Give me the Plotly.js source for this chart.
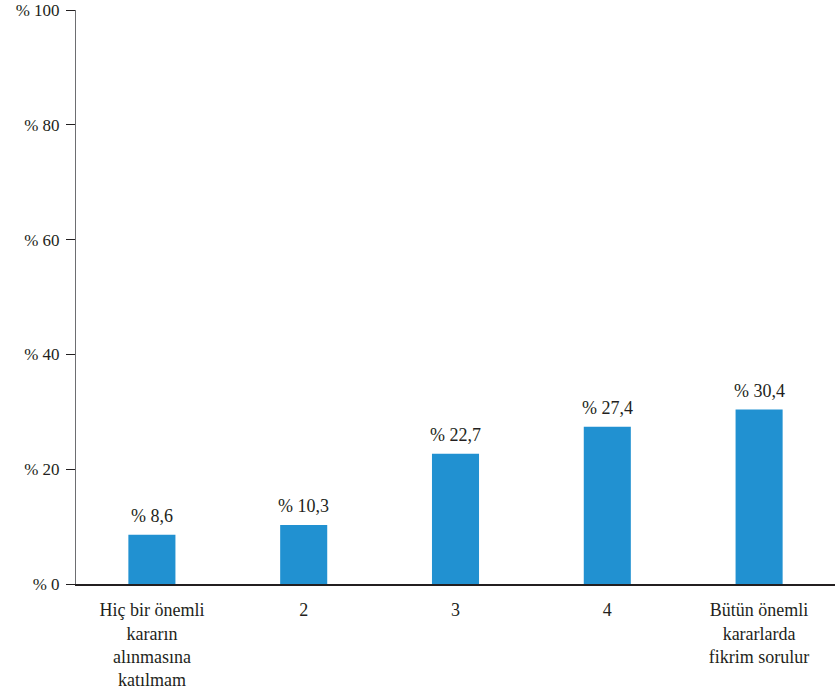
<!DOCTYPE html>
<html>
<head>
<meta charset="utf-8">
<script src="https://cdn.plot.ly/plotly-3.0.1.min.js"></script>
<style>html,body{margin:0;padding:0;background:#fff;}#chart{width:835px;height:691px;}</style>
</head>
<body>
<div id="chart"></div>
<script>
const categories = ["Hiç bir önemli<br>kararın<br>alınmasına<br>katılmam", "2", "3", "4", "Bütün önemli<br>kararlarda<br>fikrim sorulur"];
const values = [8.6, 10.3, 22.7, 27.4, 30.4];
const yTickVals = [0, 20, 40, 60, 80, 100];
const yTickText = ["% 0", "% 20", "% 40", "% 60", "% 80", "% 100"];

const fontFam = "'Liberation Serif', 'Times New Roman', serif";
const textColor = "#231f20";

const trace = {
  type: "bar",
  x: categories,
  y: values,
  marker: {color: "#2191d1"},
  hoverinfo: "none"
};

const annotations = categories.map((c, i) => ({
  x: i,
  y: values[i],
  xref: "x",
  yref: "y",
  text: "% " + values[i].toFixed(1).replace(".", ","),
  showarrow: false,
  yanchor: "bottom",
  yshift: 7,
  font: {family: fontFam, size: 18, color: textColor}
}));

const layout = {
  width: 835,
  height: 691,
  margin: {l: 76, r: 0, t: 10, b: 107},
  paper_bgcolor: "#fff",
  plot_bgcolor: "#fff",
  showlegend: false,
  bargap: 0.69,
  font: {family: fontFam, size: 18, color: textColor},
  annotations: annotations,
  xaxis: {
    type: "category",
    showline: true,
    linecolor: "#231f20",
    linewidth: 1.5,
    ticks: "",
    ticklabelstandoff: 9,
    showgrid: false,
    zeroline: false,
    tickfont: {family: fontFam, size: 18, color: textColor},
    automargin: false
  },
  yaxis: {
    range: [0, 100],
    tickmode: "array",
    tickvals: yTickVals,
    ticktext: yTickText,
    ticklabeloverflow: "allow",
    showline: true,
    linecolor: "#6d6e71",
    linewidth: 1,
    ticks: "outside",
    ticklen: 9,
    tickcolor: "#231f20",
    tickwidth: 1,
    ticklabelstandoff: 3,
    showgrid: false,
    zeroline: false,
    tickfont: {family: fontFam, size: 17, color: textColor},
    automargin: false
  }
};

Plotly.newPlot("chart", [trace], layout, {staticPlot: true, displayModeBar: false});
</script>
</body>
</html>
